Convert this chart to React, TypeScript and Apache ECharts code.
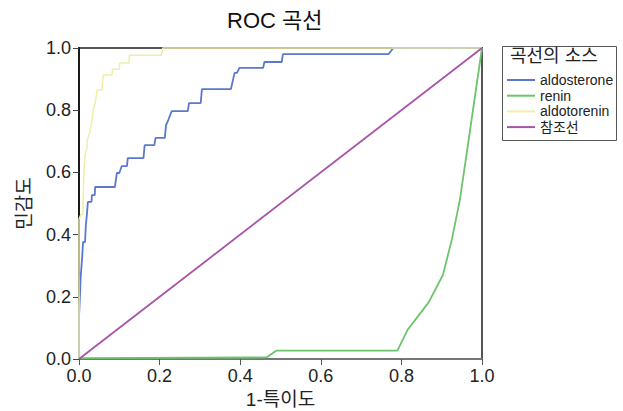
import React, { useEffect, useRef } from "react";
import * as echarts from "echarts";

const TITLE = "ROC 곡선";
const X_NAME = "1-특이도";
const Y_NAME = "민감도";
const LEGEND_TITLE = "곡선의 소스";
const SERIES_NAMES = ["aldosterone", "renin", "aldotorenin", "참조선"];

const aldosterone: [number, number][] = [
  [0, 0], [0, 0.135], [0.003, 0.22], [0.004, 0.26], [0.008, 0.33], [0.01, 0.376],
  [0.015, 0.376], [0.017, 0.43], [0.02, 0.47], [0.022, 0.505], [0.031, 0.505],
  [0.032, 0.527], [0.039, 0.527], [0.04, 0.553], [0.089, 0.553], [0.094, 0.598],
  [0.1, 0.598], [0.106, 0.62], [0.119, 0.62], [0.121, 0.646], [0.16, 0.646],
  [0.163, 0.688], [0.187, 0.688], [0.19, 0.711], [0.213, 0.711], [0.216, 0.752],
  [0.222, 0.77], [0.23, 0.797], [0.27, 0.797], [0.273, 0.823], [0.302, 0.823],
  [0.305, 0.868], [0.377, 0.868], [0.386, 0.92], [0.392, 0.92], [0.398, 0.936],
  [0.457, 0.936], [0.46, 0.955], [0.503, 0.955], [0.506, 0.98], [0.768, 0.98],
  [0.78, 1], [1, 1],
];

const renin: [number, number][] = [
  [0, 0.003], [0.465, 0.005], [0.49, 0.027], [0.79, 0.027], [0.815, 0.093],
  [0.868, 0.183], [0.903, 0.27], [0.925, 0.383], [0.945, 0.511], [0.963, 0.67], [1, 1],
];

const aldotorenin: [number, number][] = [
  [0, 0], [0, 0.3], [0, 0.45], [0.005, 0.465], [0.01, 0.465], [0.01, 0.51],
  [0.011, 0.543], [0.012, 0.6], [0.015, 0.656], [0.02, 0.678], [0.021, 0.704],
  [0.027, 0.73], [0.032, 0.768], [0.035, 0.8], [0.04, 0.823], [0.045, 0.865],
  [0.057, 0.865], [0.058, 0.888], [0.06, 0.913], [0.082, 0.913], [0.083, 0.932],
  [0.1, 0.932], [0.101, 0.952], [0.124, 0.952], [0.125, 0.977], [0.205, 0.977],
  [0.208, 1], [1, 1],
];

const reference: [number, number][] = [[0, 0], [1, 1]];

const COLORS = ["#5a78d0", "#6cc46c", "#f0eeaa", "#a853a8"];
const FONT = "'Liberation Sans', Arial, 'Noto Sans CJK KR', sans-serif";

export default function App() {
  const ref = useRef<HTMLDivElement>(null);
  useEffect(() => {
    document.body.style.margin = "0";
    if (!ref.current) return;
    const chart = echarts.init(ref.current, undefined, { renderer: "svg" });
    const datasets = [aldosterone, renin, aldotorenin, reference];
    chart.setOption({
      animation: false,
      backgroundColor: "#ffffff",
      textStyle: { fontFamily: FONT },
      title: {
        text: TITLE,
        left: 222,
        top: 4,
        textStyle: { fontSize: 22, fontWeight: "normal", color: "#111", fontFamily: FONT },
      },
      grid: {
        left: 79,
        top: 48,
        right: 141,
        bottom: 52,
        outerBoundsMode: "none",
        containLabel: false,
        show: true,
        borderColor: "#555",
        borderWidth: 2,
      },
      xAxis: {
        type: "value",
        min: 0,
        max: 1,
        interval: 0.2,
        name: X_NAME,
        nameLocation: "middle",
        nameGap: 29,
        nameTextStyle: { fontSize: 19, color: "#222", fontFamily: FONT },
        axisLine: { lineStyle: { color: "#777", width: 2 } },
        axisTick: { show: true, length: 6, lineStyle: { color: "#555" } },
        axisLabel: {
          fontSize: 18,
          color: "#222",
          margin: 8,
          formatter: (v: number) => v.toFixed(1),
        },
        splitLine: { show: false },
      },
      yAxis: {
        type: "value",
        min: 0,
        max: 1,
        interval: 0.2,
        name: Y_NAME,
        nameLocation: "middle",
        nameGap: 45,
        nameTextStyle: { fontSize: 19, color: "#222", fontFamily: FONT },
        axisLine: { lineStyle: { color: "#1a1a1a", width: 2 } },
        axisTick: { show: true, length: 6, lineStyle: { color: "#444" } },
        axisLabel: {
          fontSize: 18,
          color: "#222",
          margin: 8,
          formatter: (v: number) => v.toFixed(1),
        },
        splitLine: { show: false },
      },
      legend: {
        orient: "vertical",
        left: 502,
        top: 68,
        itemWidth: 28,
        itemHeight: 2,
        itemGap: 1.7,
        icon: "rect",
        data: SERIES_NAMES,
        textStyle: { fontSize: 14, lineHeight: 14, color: "#222", fontFamily: FONT },
      },
      graphic: [
        {
          type: "rect",
          left: 500,
          top: 44,
          shape: { width: 114, height: 94 },
          style: { fill: "none", stroke: "#555", lineWidth: 1 },
        },
        {
          type: "text",
          left: 510,
          top: 47,
          style: { text: LEGEND_TITLE, fontSize: 18, fill: "#222", fontFamily: FONT },
        },
      ],
      series: SERIES_NAMES.map((name, i) => ({
        name,
        type: "line",
        data: datasets[i],
        showSymbol: false,
        symbol: "none",
        clip: false,
        color: COLORS[i],
        lineStyle: { color: COLORS[i], width: i === 2 ? 1.5 : 1.8 },
        z: 2 + i,
      })),
    });
    return () => chart.dispose();
  }, []);
  return <div ref={ref} style={{ width: 623, height: 411 }} />;
}
